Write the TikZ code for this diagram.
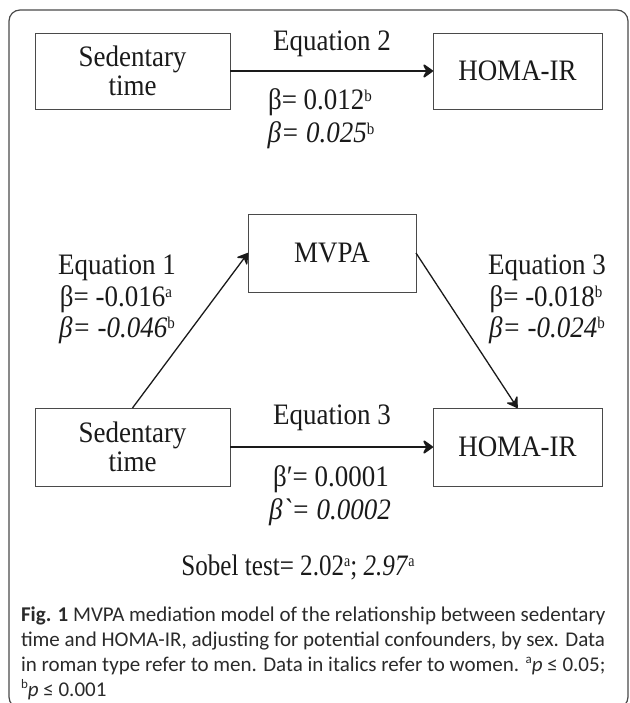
\documentclass[tikz,border=0pt]{standalone}
\usepackage{graphicx}
\usepackage{fontspec}
\setmainfont{Liberation Serif}
\newfontfamily\rawserif{Liberation Serif}
\newfontfamily\capfont{Carlito}
\usetikzlibrary{arrows.meta}
\newcommand\sps[1]{\raisebox{0.30em}{\fontsize{15}{15}\selectfont\upshape #1}}
\newcommand\csp[1]{\raisebox{0.38em}{\fontsize{13}{13}\selectfont\upshape #1}}
\newcommand\tall[1]{\scalebox{1}[1.1]{#1}}
\definecolor{boxline}{HTML}{4A4A4A}
\definecolor{txt}{HTML}{1A1A1A}
\definecolor{captxt}{HTML}{2A2A2A}
\begin{document}
\begin{tikzpicture}[x=1pt,y=-1pt,
  every node/.style={inner sep=0pt, outer sep=0pt, text=txt},
  varbox/.style={draw=boxline, line width=0.9pt, anchor=north west,
    minimum width=#1, minimum height=76pt, align=center,
    font=\fontsize{27}{27}\selectfont},
  lbl/.style={anchor=base, font=\fontsize{27}{27}\selectfont},
  caplbl/.style={anchor=base west, text=captxt, font=\capfont\fontsize{21}{24}\selectfont},
  boldarrow/.style={draw=txt, line width=2.6pt, -{Stealth[length=12pt,width=17pt,inset=4.5pt,round]}},
  thinarrow/.style={draw=txt, line width=1.3pt, -{Stealth[length=12pt,width=15pt,inset=4.5pt,round]}}
]
\useasboundingbox (0,0) rectangle (629,703);
\clip (0,0) rectangle (629,703);
% outer frame
\draw[draw=boxline, line width=1.2pt, rounded corners=11pt] (9,10) rectangle (628,708);

% top row
\node[varbox=195pt] (st1) at (35,33) {\tall{Sedentary}\\[2pt]\tall{time}};
\node[varbox=169pt] (ho1) at (433,33) {\tall{HOMA-IR}};
\draw[boldarrow] (st1.east) -- (ho1.west);
\node[lbl] (eq2) at (332,51) {\tall{Equation 2}};
\node[lbl] (b2a) at (320,110) {\tall{β= 0.012\sps{b}}};
\node[lbl] (b2b) at (321,143) {\tall{\itshape β= 0.025\sps{b}}};

% mediator
\node[varbox=168pt, minimum height=78pt] (mv) at (248,214) {\tall{MVPA}};

% bottom row
\node[varbox=195pt, minimum height=78pt] (st2) at (35,408) {\tall{Sedentary}\\[2pt]\tall{time}};
\node[varbox=169pt, minimum height=78pt] (ho2) at (433,408) {\tall{HOMA-IR}};
\draw[boldarrow] (st2.east) -- (ho2.west);
\draw[thinarrow] (st2.north) -- (mv.west);
\draw[thinarrow] (mv.east) -- (ho2.north);

% left labels
\node[lbl] (eq1) at (117,274) {\tall{Equation 1}};
\node[lbl] (b1a) at (116,306) {\tall{β= -0.016\sps{a}}};
\node[lbl] (b1b) at (117,337) {\tall{\itshape β= -0.046\sps{b}}};
% right labels
\node[lbl] (eq3r) at (547,274) {\tall{Equation 3}};
\node[lbl] (b3a) at (546,306) {\tall{β= -0.018\sps{b}}};
\node[lbl] (b3b) at (547,337) {\tall{\itshape β= -0.024\sps{b}}};
% bottom labels
\node[lbl] (eq3b) at (332,424) {\tall{Equation 3}};
\node[lbl] (bpa) at (331,486) {\tall{β′= 0.0001}};
\node[lbl] (bpb) at (330,519) {\tall{{\rawserif\itshape β`}\itshape = 0.0002}};
\node[lbl] (sob) at (298,575) {\scalebox{0.93}[1.1]{Sobel test= 2.02\sps{a}; \textit{2.97}\sps{a}}};

% caption
\node[caplbl] (c1) at (21,621) {\textbf{Fig. 1} MVPA mediation model of the relationship between sedentary};
\node[caplbl] (c2) at (21,646) {time and HOMA-IR, adjusting for potential confounders, by sex. Data};
\node[caplbl] (c3) at (21,671) {in roman type refer to men. Data in italics refer to women. \csp{a}\textit{p} ≤ 0.05;};
\node[caplbl] (c4) at (21,696) {\csp{b}\textit{p} ≤ 0.001};
\end{tikzpicture}
\end{document}
